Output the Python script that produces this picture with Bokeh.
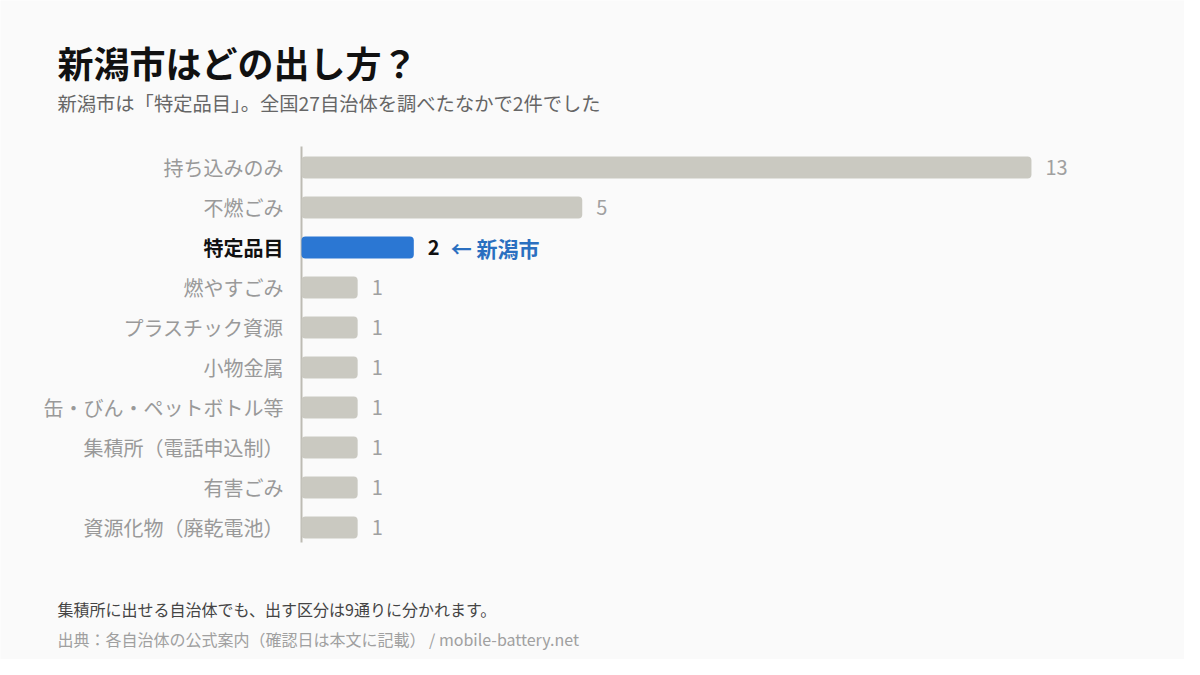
from bokeh.plotting import figure
from bokeh.models import ColumnDataSource, Range1d, LabelSet, Label
from bokeh.core.properties import value
from bokeh.embed import file_html
from bokeh.resources import INLINE

# ---- data ----
categories = ["持ち込みのみ", "不燃ごみ", "特定品目", "燃やすごみ", "プラスチック資源",
              "小物金属", "缶・びん・ペットボトル等", "集積所（電話申込制）", "有害ごみ", "資源化物（廃乾電池）"]
counts = [13, 5, 2, 1, 1, 1, 1, 1, 1, 1]
highlight = "特定品目"
highlight_note = "← 新潟市"

title_text = "新潟市はどの出し方？"
subtitle_text = "新潟市は「特定品目」。全国27自治体を調べたなかで2件でした"
note_text = "集積所に出せる自治体でも、出す区分は9通りに分かれます。"
source_text = "出典：各自治体の公式案内（確認日は本文に記載） / mobile-battery.net"

FONT = "Noto Sans CJK JP"
BG = "#fafafa"
GRAY_BAR = "#cac9c1"
BLUE_BAR = "#2b77d3"
BLUE_TXT = "#2a6fc0"

W, H = 1184, 659
X0, PXU = 301, 56.15       # page x of value 0, pixels per unit
Y0, PXR = 167, 40          # page y of first row, pixels per row

n = len(categories)
is_hi = [c == highlight for c in categories]
src = ColumnDataSource(dict(
    y=list(range(n)),
    cat=categories,
    val=counts,
    lbl=[str(v) for v in counts],
    bar_color=[BLUE_BAR if h else GRAY_BAR for h in is_hi],
    cat_color=["#111111" if h else "#999999" for h in is_hi],
    cat_style=["bold" if h else "normal" for h in is_hi],
    val_color=["#111111" if h else "#a0a0a0" for h in is_hi],
    val_style=["bold" if h else "normal" for h in is_hi],
))

p = figure(width=W, height=H, output_backend="svg", toolbar_location=None,
           x_range=Range1d(-X0 / PXU, (W - X0) / PXU),
           y_range=Range1d((H - Y0) / PXR, -Y0 / PXR),
           x_axis_location=None, y_axis_location=None,
           min_border=0, background_fill_color=BG, border_fill_color=BG,
           outline_line_color=None)
p.grid.visible = False

# baseline (axis line) spanning the rows
p.segment(x0=[0], x1=[0], y0=[-0.525], y1=[n - 1 + 0.375], line_color="#bdbbb3", line_width=2)

p.hbar(y="y", left=0, right="val", height=0.55, source=src, fill_color="bar_color",
       line_color=None, border_radius=4)

p.add_layout(LabelSet(x=0, y="y", text="cat", source=src, x_offset=-18,
                      text_align="right", text_baseline="middle", text_font=value(FONT),
                      text_font_size="20px", text_color="cat_color", text_font_style="cat_style"))
p.add_layout(LabelSet(x="val", y="y", text="lbl", source=src, x_offset=14,
                      text_align="left", text_baseline="middle", text_font=value(FONT),
                      text_font_size="20px", text_color="val_color", text_font_style="val_style"))

hi_i = categories.index(highlight)
p.add_layout(Label(x=counts[hi_i], y=hi_i, text=highlight_note, x_offset=37,
                   text_align="left", text_baseline="middle", text_font=FONT,
                   text_font_size="21px", text_color=BLUE_TXT, text_font_style="bold"))

def add_text(txt, px, py, size, color, style="normal"):
    p.add_layout(Label(x=px, y=H - py, x_units="screen", y_units="screen", text=txt,
                       text_align="left", text_baseline="middle", text_font=FONT,
                       text_font_size=size, text_color=color, text_font_style=style))

add_text(title_text, 57, 61, "36px", "#111111", "bold")
add_text(subtitle_text, 57, 102, "19.3px", "#666666")
add_text(note_text, 57, 608, "16px", "#444444")
add_text(source_text, 57, 638, "16px", "#a0a0a0")

open("out.html", "w").write(file_html(p, INLINE))
